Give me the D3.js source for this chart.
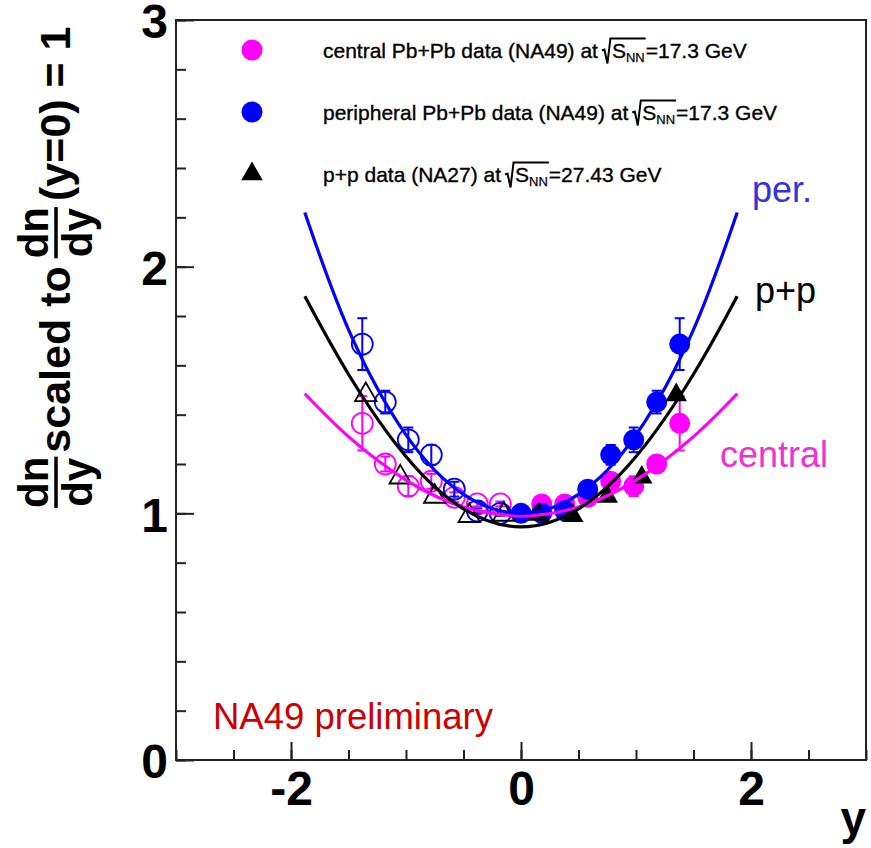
<!DOCTYPE html>
<html>
<head>
<meta charset="utf-8">
<script src="https://cdn.jsdelivr.net/npm/d3@7"></script>
<style>
  html, body { margin: 0; padding: 0; background: #fff; }
  svg { display: block; font-family: "Liberation Sans", Arial, Helvetica, sans-serif; }
</style>
</head>
<body>
<svg id="chart" width="871" height="848"></svg>
<script>
// ---- data: rapidity distributions normalised to dn/dy(y=0) = 1 ----
// measured points (forward hemisphere); the backward hemisphere is drawn as the reflection
const centralRap = [0.18, 0.38, 0.58, 0.78, 0.98, 1.18, 1.38];
const centralVal = [1.038, 1.038, 1.065, 1.13, 1.11, 1.20, 1.365];
const centralErr = [0.01, 0.01, 0.02, 0.03, 0.04, 0.03, 0.11];

const periphRap = [0.0, 0.18, 0.38, 0.58, 0.78, 0.98, 1.18, 1.38];
const periphVal = [1.0, 1.0, 1.01, 1.098, 1.237, 1.298, 1.451, 1.686];
const periphErr = [0.01, 0.01, 0.01, 0.03, 0.04, 0.05, 0.046, 0.105];

const ppRap = [0.15, 0.45, 0.75, 1.05, 1.35];
const ppVal = [0.995, 0.99, 1.068, 1.146, 1.48];

// fitted curves, sampled
const fitRap    = [-1.88, -1.5, -1.0, -0.5, 0, 0.5, 1.0, 1.5, 1.88];
const fitPeriph = [2.22, 1.745, 1.318, 1.077, 1.0, 1.077, 1.318, 1.745, 2.22];
const fitPP     = [1.88, 1.564, 1.23, 1.018, 0.945, 1.018, 1.23, 1.564, 1.88];
const fitCentral= [1.485, 1.311, 1.135, 1.026, 0.99, 1.026, 1.135, 1.311, 1.485];

// axis ticks
const yMajor = [0, 1, 2, 3];
const yMinor = d3.range(0, 16).map(i => i * 0.2);
const xMajor = [-2, 0, 2];
const xMinor = d3.range(-6, 7).map(i => i * 0.5);

const MAG = "#ff00ff", BLUE = "#0000ff", BLK = "#000000";

const svg = d3.select("#chart");
const x = d3.scaleLinear().domain([-3, 3]).range([176, 866]);
const y = d3.scaleLinear().domain([0, 3]).range([760, 20]);

// ---- axes (ticks point inwards) ----
function styleAxis(g) {
  g.select(".domain").remove();
  g.selectAll(".tick line").attr("stroke", "#222").attr("stroke-width", 2);
  g.selectAll(".tick text").attr("fill", "#000").attr("font-weight", "bold")
    .attr("font-size", 48).attr("font-family", "Liberation Sans, Arial, sans-serif");
}
svg.append("g").attr("transform", "translate(176,0)")
  .call(d3.axisLeft(y).tickValues(yMinor).tickSize(-10).tickFormat(""))
  .call(styleAxis);
svg.append("g").attr("transform", "translate(176,0)")
  .call(d3.axisLeft(y).tickValues(yMajor).tickSize(-18).tickPadding(8).tickFormat(d => String(d)))
  .call(styleAxis)
  .call(g => g.selectAll(".tick text").attr("dy", "0.37em"));
svg.append("g").attr("transform", "translate(0,760)")
  .call(d3.axisBottom(x).tickValues(xMinor).tickSize(-10).tickFormat(""))
  .call(styleAxis);
svg.append("g").attr("transform", "translate(0,760)")
  .call(d3.axisBottom(x).tickValues(xMajor).tickSize(-18).tickPadding(11).tickFormat(d => String(d)))
  .call(styleAxis);

// frame
svg.append("rect").attr("x", 176).attr("y", 20).attr("width", 690).attr("height", 740)
  .attr("fill", "none").attr("stroke", "#222").attr("stroke-width", 2);

// axis title (x)
svg.append("text").attr("x", 866).attr("y", 834).attr("text-anchor", "end")
  .attr("font-weight", "bold").attr("font-size", 46).text("y");

// ---- y axis title with stacked fractions ----
const yt = svg.append("g").attr("transform", "translate(0,508) rotate(-90)");
const TS = 43;   // main title size
const FS = 42;   // fraction size
let u = 0;
function fraction(u0) {
  const num = yt.append("text").attr("font-weight", "bold").attr("font-size", FS).text("dn");
  const den = yt.append("text").attr("font-weight", "bold").attr("font-size", FS).text("dy");
  const w = Math.max(num.node().getComputedTextLength(), den.node().getComputedTextLength());
  num.attr("x", u0 + w / 2).attr("y", 48).attr("text-anchor", "middle");
  den.attr("x", u0 + w / 2).attr("y", 92).attr("text-anchor", "middle");
  yt.append("line").attr("x1", u0).attr("x2", u0 + w).attr("y1", 56).attr("y2", 56)
    .attr("stroke", "#000").attr("stroke-width", 3.5);
  return u0 + w;
}
function word(u0, s) {
  const t = yt.append("text").attr("x", u0).attr("y", 70).attr("font-weight", "bold")
    .attr("font-size", TS).text(s);
  return u0 + t.node().getComputedTextLength();
}
u = fraction(u);
u = word(u + 4, "scaled to");
u = fraction(u + 8);
u = word(u + 6, "(y=0) = 1");

// ---- markers ----
const layer = svg.append("g");

function errorBars(rap, val, err, color) {
  rap.forEach((r, i) => {
    const xs = r > 0 ? [r, -r] : [r];
    xs.forEach(xx => {
      const cx = x(xx), y1 = y(val[i] + err[i]), y2 = y(val[i] - err[i]);
      layer.append("line").attr("x1", cx).attr("x2", cx).attr("y1", y1).attr("y2", y2)
        .attr("stroke", color).attr("stroke-width", 2);
      [y1, y2].forEach(yy => layer.append("line").attr("x1", cx - 5).attr("x2", cx + 5)
        .attr("y1", yy).attr("y2", yy).attr("stroke", color).attr("stroke-width", 2));
    });
  });
}

function circles(rap, val, color) {
  // reflected (open) markers
  layer.selectAll(null).data(rap.map((r, i) => [r, val[i]]).filter(d => d[0] > 0)).enter()
    .append("circle").attr("cx", d => x(-d[0])).attr("cy", d => y(d[1])).attr("r", 10.5)
    .attr("fill", "none").attr("stroke", color).attr("stroke-width", 1.8);
  // measured (filled) markers
  layer.selectAll(null).data(rap.map((r, i) => [r, val[i]])).enter()
    .append("circle").attr("cx", d => x(d[0])).attr("cy", d => y(d[1])).attr("r", 10.5)
    .attr("fill", color);
}

const tri = d3.symbol().type(d3.symbolTriangle).size(200);
function triangles(rap, val) {
  const pts = rap.map((r, i) => [r, val[i]]);
  layer.selectAll(null).data(pts).enter().append("path").attr("d", tri)
    .attr("transform", d => `translate(${x(-d[0])},${y(d[1])})`)
    .attr("fill", "none").attr("stroke", BLK).attr("stroke-width", 1.8);
  layer.selectAll(null).data(pts).enter().append("path").attr("d", tri)
    .attr("transform", d => `translate(${x(d[0])},${y(d[1])})`)
    .attr("fill", BLK);
}

errorBars(centralRap, centralVal, centralErr, MAG);
circles(centralRap, centralVal, MAG);
errorBars(periphRap, periphVal, periphErr, BLUE);
circles(periphRap, periphVal, BLUE);
triangles(ppRap, ppVal);

// ---- fitted curves ----
const line = d3.line().x(d => x(d[0])).y(d => y(d[1])).curve(d3.curveNatural);
function curve(vals, color) {
  svg.append("path").attr("d", line(fitRap.map((r, i) => [r, vals[i]])))
    .attr("fill", "none").attr("stroke", color).attr("stroke-width", 3.2);
}
curve(fitCentral, MAG);
curve(fitPP, BLK);
curve(fitPeriph, BLUE);

// curve labels
svg.append("text").attr("x", 752).attr("y", 202).attr("font-size", 36).attr("fill", "#3535d5").text("per.");
svg.append("text").attr("x", 755).attr("y", 303).attr("font-size", 36).attr("fill", "#000").text("p+p");
svg.append("text").attr("x", 720).attr("y", 467).attr("font-size", 36).attr("fill", "#f030d0").text("central");
svg.append("text").attr("x", 213).attr("y", 729).attr("font-size", 36.5).attr("fill", "#cc0000").text("NA49 preliminary");

// ---- legend ----
const legend = [
  { kind: "circle", color: MAG, pre: "central Pb+Pb data (NA49) at", post: "=17.3 GeV", cy: 50 },
  { kind: "circle", color: BLUE, pre: "peripheral Pb+Pb data (NA49) at", post: "=17.3 GeV", cy: 112 },
  { kind: "tri", color: BLK, pre: "p+p data (NA27) at", post: "=27.43 GeV", cy: 174 }
];
const LX = 252, TX = 323, LF = 21;
function legendText(xp, yp, size, s) {
  return svg.append("text").attr("x", xp).attr("y", yp).attr("font-size", size)
    .attr("stroke", "#000").attr("stroke-width", 0.35).text(s);
}
legend.forEach(e => {
  if (e.kind === "circle") {
    svg.append("circle").attr("cx", LX).attr("cy", e.cy).attr("r", 10.5).attr("fill", e.color);
  } else {
    svg.append("path").attr("d", tri).attr("transform", `translate(${LX},${e.cy})`).attr("fill", e.color);
  }
  const base = e.cy + 7.5;
  let cx = TX;
  const t1 = legendText(cx, base, LF, e.pre);
  cx += t1.node().getComputedTextLength() + 4;
  // radical sign over S_NN
  const top = base - 19, bot = base + 6;
  const rx = cx;
  cx += 9;
  const tS = legendText(cx + 1, base, LF, "S");
  const sEnd = cx + 1 + tS.node().getComputedTextLength();
  const tN = legendText(sEnd, base + 4, 13, "NN").attr("stroke-width", 0.25);
  const nEnd = sEnd + tN.node().getComputedTextLength();
  svg.append("path")
    .attr("d", `M${rx},${base - 7} L${rx + 2.5},${base - 8} L${rx + 5.5},${bot} L${rx + 8.5},${top} L${nEnd + 1},${top}`)
    .attr("fill", "none").attr("stroke", "#000").attr("stroke-width", 2);
  legendText(nEnd + 1, base, LF, e.post);
});
</script>
</body>
</html>
